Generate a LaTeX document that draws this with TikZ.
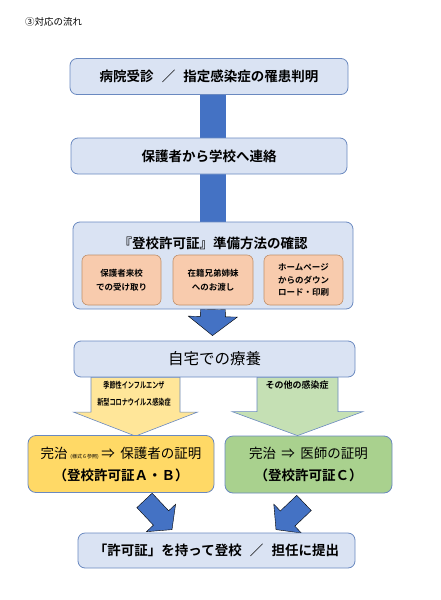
\documentclass[tikz,border=0pt]{standalone}
\usepackage{fontspec}
\setmainfont{Noto Sans CJK JP}[BoldFont={Noto Sans CJK JP Bold}]
\usepackage{tikz}
\usetikzlibrary{calc,backgrounds}

\definecolor{boxblue}{HTML}{DAE3F3}
\definecolor{edgeblue}{HTML}{6A89C0}
\definecolor{arrowblue}{HTML}{4472C4}
\definecolor{subpeach}{HTML}{F8CBAD}
\definecolor{subedge}{HTML}{C0906A}
\definecolor{paleyellow}{HTML}{FFE699}
\definecolor{darkyellow}{HTML}{FFD966}
\definecolor{palegreen}{HTML}{C5E0B4}
\definecolor{midgreen}{HTML}{A9D18E}

\tikzset{
  flowbox/.style={draw=edgeblue,line width=0.8pt,rounded corners=7pt,fill=boxblue,
    minimum height=36pt,inner sep=0pt,font=\bfseries\fontsize{13.5}{16}\selectfont},
  subbox/.style={draw=subedge,line width=0.6pt,rounded corners=6pt,fill=subpeach,
    minimum width=79pt,minimum height=50pt,inner sep=0pt,align=center,
    font=\bfseries\fontsize{8.5}{14}\selectfont},
  endbox/.style={draw=edgeblue,line width=0.8pt,rounded corners=8pt,minimum height=57pt,
    inner sep=0pt,align=center,font=\fontsize{13.5}{22}\selectfont},
  bluearrow/.style={fill=arrowblue},
}

% block arrow: start, tip, half shaft, half head, head length, style
\newcommand{\blockarrow}[6]{%
  \coordinate (hb) at ($(#2)!#5!(#1)$);
  \draw[#6] ($(#1)!#3!90:(#2)$) -- ($(hb)!#3!90:(#2)$) -- ($(hb)!#4!90:(#2)$) -- (#2)
    -- ($(hb)!#4!-90:(#2)$) -- ($(hb)!#3!-90:(#2)$) -- ($(#1)!#3!-90:(#2)$) -- cycle;
}

\begin{document}
\begin{tikzpicture}[x=1pt,y=-1pt]
\useasboundingbox (0,0) rectangle (440,600);

% Heading
\node[anchor=west,inner sep=0pt,font=\fontsize{9.5}{11}\selectfont] (head) at (25,22) {③対応の流れ};

% Main steps
\node[flowbox,minimum width=278pt] (visit) at (209,76.5) {病院受診\hspace{0.6em}／\hspace{0.6em}指定感染症の罹患判明};
\node[flowbox,minimum width=276pt] (contact) at (209,156) {保護者から学校へ連絡};
\node[flowbox,minimum width=280pt,minimum height=87pt] (prep) at (213,265.5) {};
\node[inner sep=0pt,font=\bfseries\fontsize{13.5}{16}\selectfont] (preptitle) at (213,243) {『登校許可証』準備方法の確認};

% Ways to get the form
\node[subbox] (way1) at (121.5,280) {保護者来校\\での受け取り};
\node[subbox,minimum width=80pt] (way2) at (213,280) {在籍兄弟姉妹\\へのお渡し};
\node[subbox,font=\bfseries\fontsize{8.5}{12.5}\selectfont] (way3) at (303.5,280) {ホームページ\\からのダウン\\ロード・印刷};

\node[flowbox,minimum width=281pt,font=\fontsize{15.5}{18}\selectfont] (home) at (214.5,359) {自宅での療養};

% Two endings
\node[endbox,fill=darkyellow,minimum width=186pt] (proofA) at (121,464)
  {完治\hspace{0.2em}{\fontsize{5}{6}\selectfont (様式６参照)}\hspace{0.2em}⇒\hspace{0.4em}保護者の証明\\ \textbf{（登校許可証Ａ・Ｂ）}};
\node[endbox,fill=midgreen,minimum width=167pt] (proofC) at (308.5,464.5)
  {完治\hspace{0.4em}⇒\hspace{0.4em}医師の証明\\ \textbf{（登校許可証Ｃ）}};

\node[flowbox,minimum width=277pt,minimum height=35pt] (submit) at (216.5,550.5)
  {「許可証」を持って登校\hspace{0.6em}／\hspace{0.6em}担任に提出};

% Arrows behind the boxes
\begin{scope}[on background layer]
\fill[arrowblue] ($(visit.south)+(-9,0)$) rectangle ($(prep.north)+(12.5,0)$);
\coordinate (tiphome) at ($(home.north)+(-2,-5)$);
\blockarrow{prep.south}{tiphome}{12.5pt}{24.5pt}{19pt}{bluearrow}
\coordinate (fluA) at ($(home.south)+(-79,0)$);
\coordinate (fluB) at ($(proofA.north)+(14.5,1)$);
\blockarrow{fluA}{fluB}{44.5pt}{62pt}{24pt}{fill=paleyellow,draw=edgeblue,line width=0.6pt}
\coordinate (othA) at ($(home.south)+(83,0)$);
\coordinate (othB) at ($(proofC.north)+(-11,0)$);
\blockarrow{othA}{othB}{40.5pt}{65.5pt}{24pt}{fill=palegreen,draw=edgeblue,line width=0.6pt}
\coordinate (leftA) at ($(proofA.south)+(23.5,7.5)$);
\coordinate (leftB) at ($(submit.north)+(-44.5,-3)$);
\blockarrow{leftA}{leftB}{10.5pt}{20pt}{16pt}{bluearrow}
\coordinate (rightA) at ($(proofC.south)+(-4.5,9.5)$);
\coordinate (rightB) at ($(submit.north)+(59.5,-3)$);
\blockarrow{rightA}{rightB}{10.5pt}{20pt}{16pt}{bluearrow}
\end{scope}

% Labels on the branch arrows
\node[align=center,inner sep=0pt,font=\bfseries\fontsize{8.5}{17}\selectfont] (flu) at (134,393.5)
  {\scalebox{0.72}[1]{季節性インフルエンザ}\\ \scalebox{0.72}[1]{新型コロナウイルス感染症}};
\node[inner sep=0pt,font=\bfseries\fontsize{9}{10}\selectfont] (other) at (297,385) {その他の感染症};

\end{tikzpicture}
\end{document}
